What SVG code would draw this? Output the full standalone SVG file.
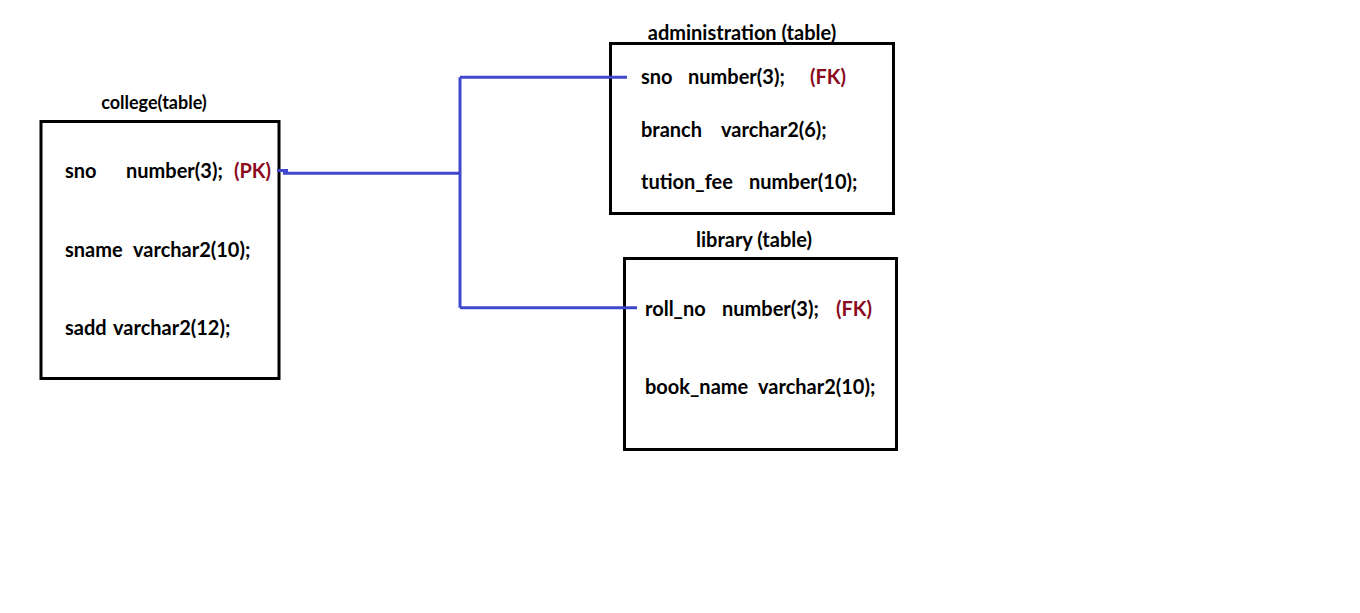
<svg xmlns="http://www.w3.org/2000/svg" width="1360" height="613" viewBox="0 0 1360 613">
<style>
text{font-family:Lato,"Liberation Sans",sans-serif;font-weight:bold;fill:#000}
.t{text-anchor:middle}
.r{font-size:20px}
.k{fill:#8B0A1E}
.box{fill:#fff;stroke:#000;stroke-width:3}
.c{fill:none;stroke:#3F48CC;stroke-width:3}
</style>
<rect width="1360" height="613" fill="#fff"/>
<g id="college">
<text class="t" x="154" y="109" font-size="18">college(table)</text>
<rect class="box" x="41" y="121.5" width="238" height="257"/>
<text class="r" x="65" y="178">sno</text>
<text class="r" x="126" y="178">number(3);</text>
<text class="r k" x="234" y="178">(PK)</text>
<text class="r" x="65" y="257">sname</text>
<text class="r" x="133" y="257">varchar2(10);</text>
<text class="r" x="65" y="335">sadd</text>
<text class="r" x="113" y="335">varchar2(12);</text>
</g>
<g id="administration">
<text class="t" x="742" y="40" font-size="20">administration (table)</text>
<rect class="box" x="610.5" y="43.5" width="283" height="170"/>
<text class="r" x="641" y="84">sno</text>
<text class="r" x="688" y="84">number(3);</text>
<text class="r k" x="810" y="84">(FK)</text>
<text class="r" x="641" y="137">branch</text>
<text class="r" x="721" y="137">varchar2(6);</text>
<text class="r" x="641" y="189">tution_fee</text>
<text class="r" x="749" y="189">number(10);</text>
</g>
<g id="library">
<text class="t" x="754" y="247" font-size="20">library (table)</text>
<rect class="box" x="624.5" y="258.5" width="272" height="191"/>
<text class="r" x="645" y="316">roll_no</text>
<text class="r" x="722" y="316">number(3);</text>
<text class="r k" x="836" y="316">(FK)</text>
<text class="r" x="645" y="394">book_name</text>
<text class="r" x="758" y="394">varchar2(10);</text>
</g>
<g id="connectors">
<path class="c" d="M277 170.5H288"/>
<path class="c" d="M283 173.3H460M460 77.3V307.7M460 77.3H627M460 307.7H637"/>
</g>
</svg>
